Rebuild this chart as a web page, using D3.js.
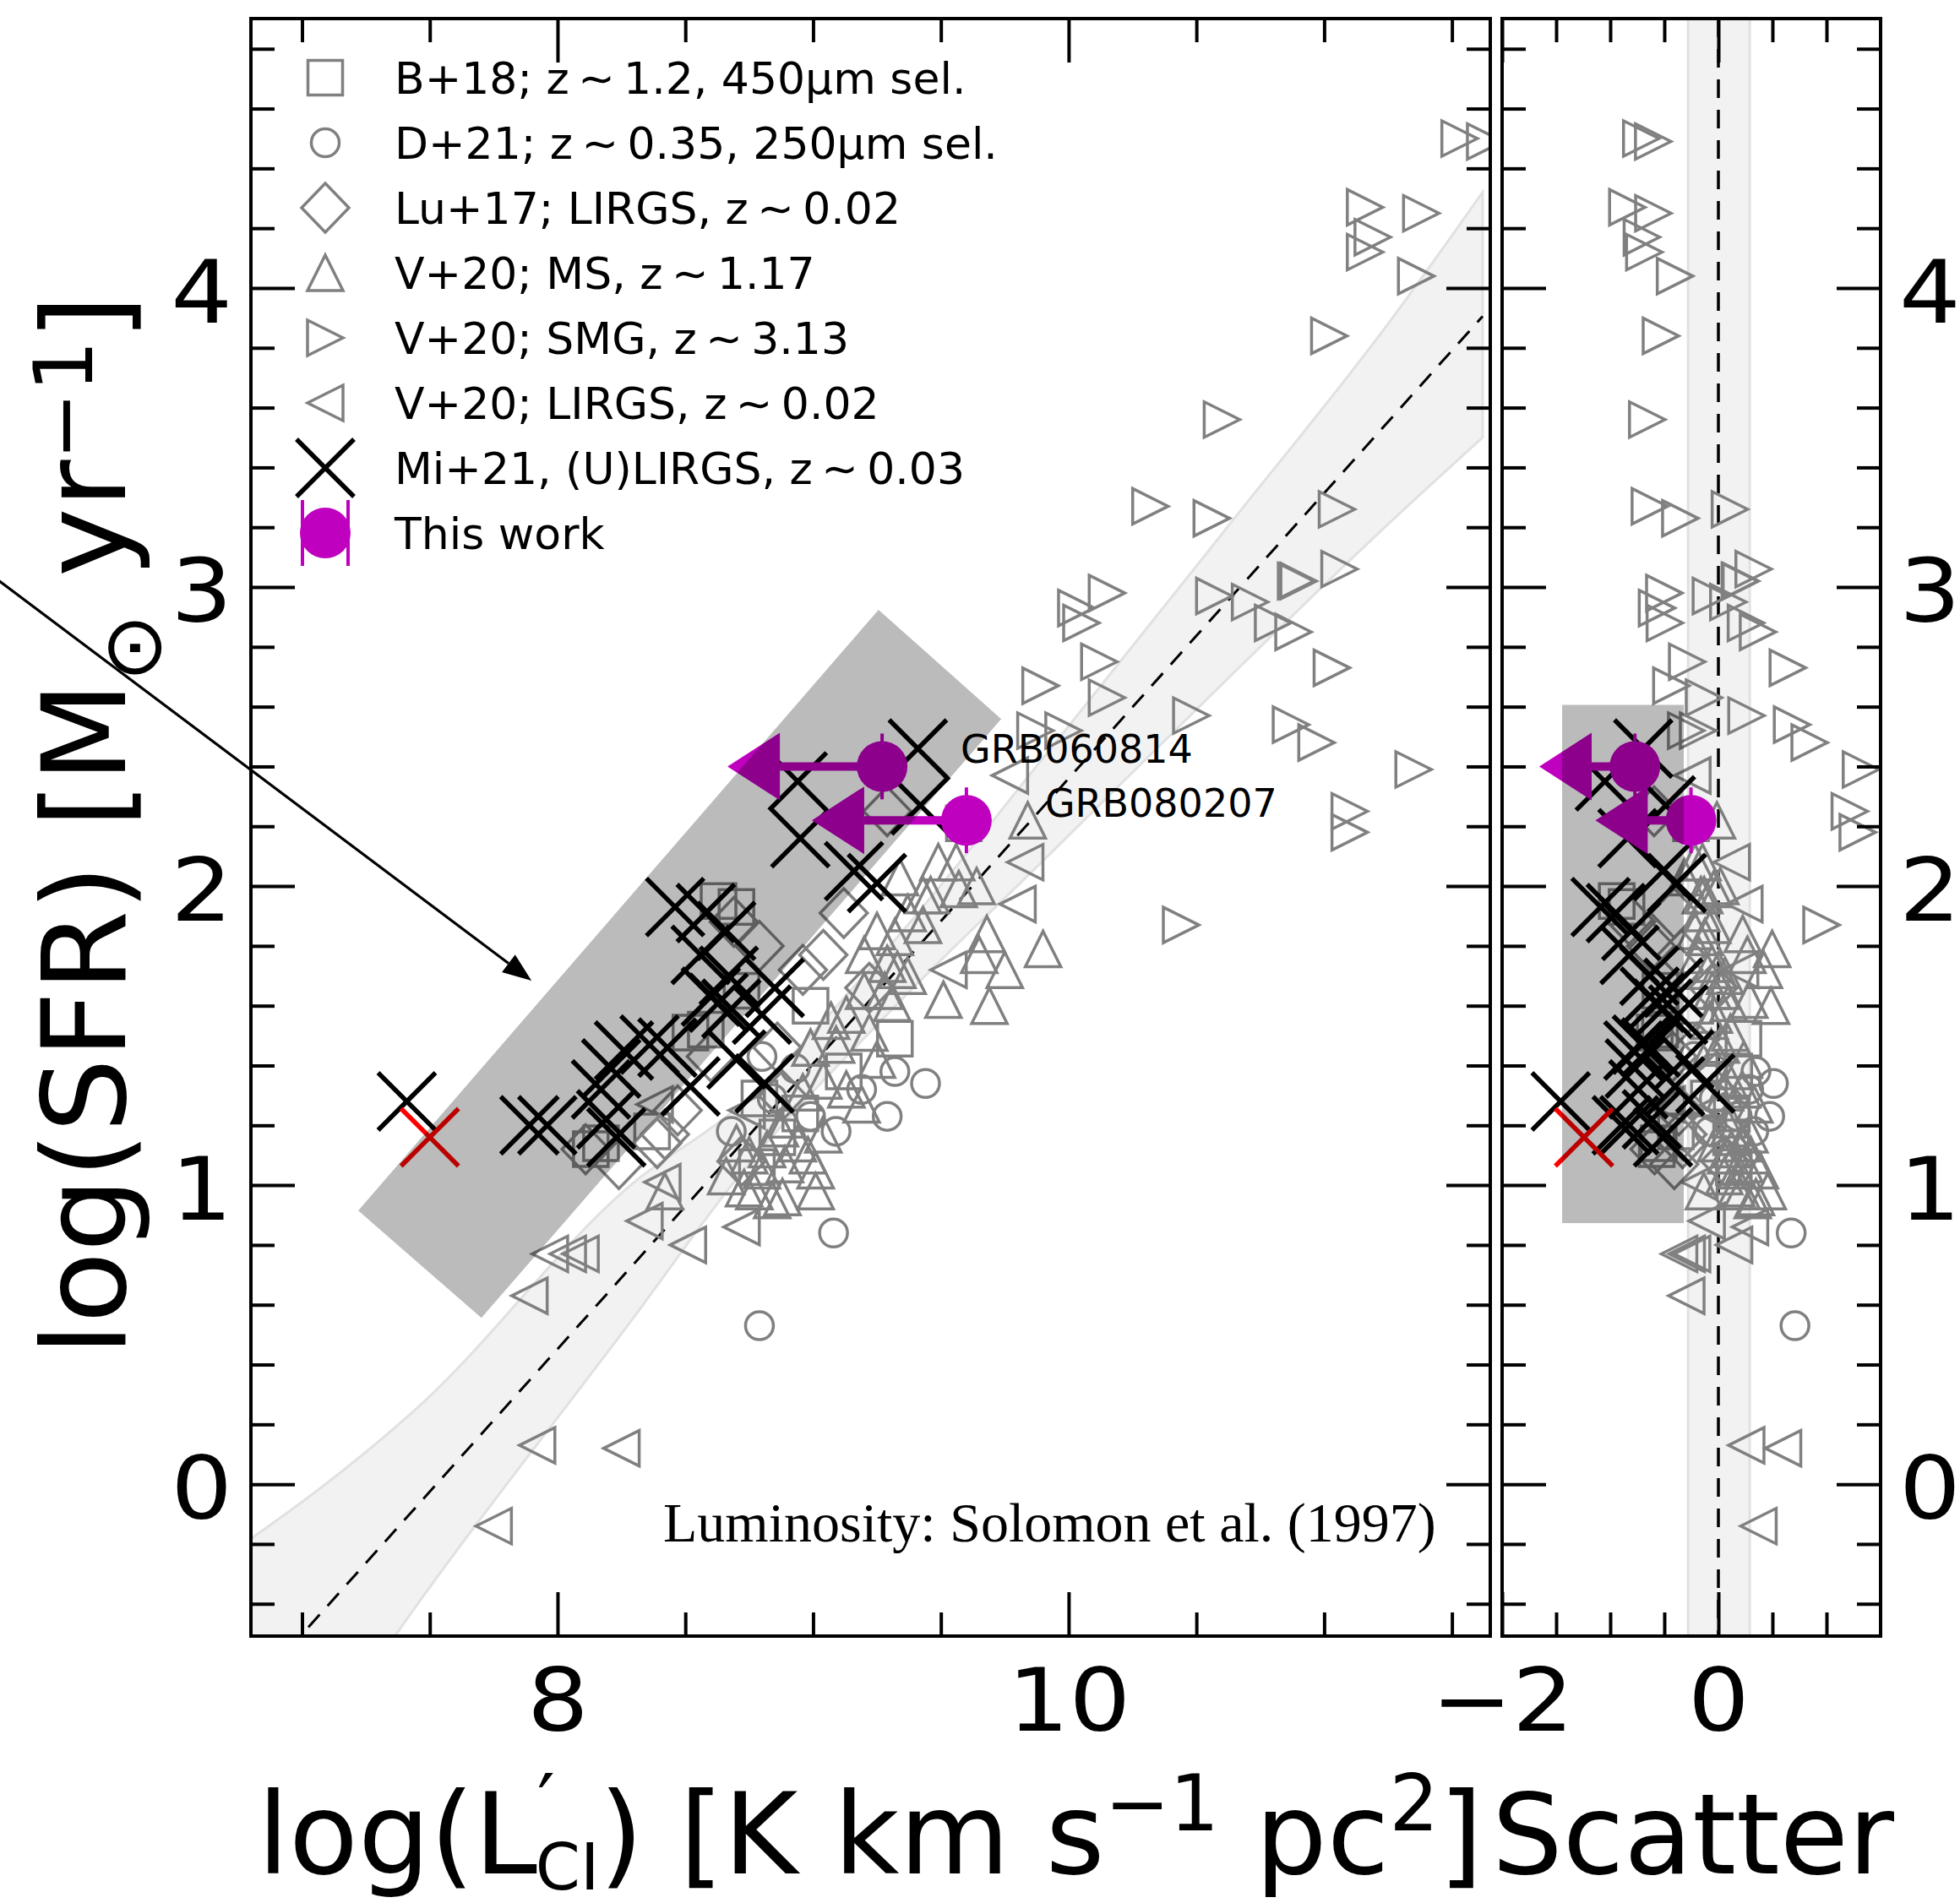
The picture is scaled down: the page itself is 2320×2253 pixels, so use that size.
<!DOCTYPE html>
<html>
<head>
<meta charset="utf-8">
<script src="https://cdn.jsdelivr.net/npm/d3@7"></script>
<style>
body{margin:0;background:#fff}
svg{display:block}
text{font-family:"DejaVu Sans",sans-serif;white-space:pre}
</style>
</head>
<body>
<svg id="chart" width="2320" height="2253"></svg>
<script>
// ---- data: [log L'CI, log SFR] ----
var b18 = [[8.70,1.93],[8.63,1.95],[9.59,2.21],[8.72,1.65],[8.58,1.52],[8.52,1.51],[8.13,1.12],
  [8.17,1.14],[8.37,1.18],[8.99,1.60],[9.12,1.38],[9.32,1.49],[8.79,1.29],[8.86,1.16],[8.95,1.24],
  [8.78,1.06]];
var d21 = [[9.08,0.84],[8.79,0.53],[9.44,1.34],[8.68,1.18],[8.80,1.43],[8.99,1.23],[9.19,1.32],
  [9.09,1.18],[8.93,1.39],[9.29,1.23],[8.84,1.29],[9.32,1.38]];
var lu17 = [[9.04,1.77],[9.29,2.25],[8.11,1.12],[8.42,1.17],[8.24,1.07],[8.47,1.25],[8.39,1.14],
  [8.96,1.72],[8.79,1.80],[8.69,1.88],[9.12,1.91],[8.60,1.43],[8.86,1.46],[9.22,1.66],[8.72,1.08],
  [8.88,1.30]];
var v20ms = [[9.84,2.22],[9.90,1.79],[9.51,1.62],[9.69,1.60],[9.75,1.72],[9.68,1.84],[9.65,1.77],
  [9.34,2.03],[9.46,1.97],[9.57,1.99],[9.64,2.00],[9.25,1.85],[9.37,1.91],[9.43,1.87],[9.20,1.77],
  [9.33,1.72],[9.20,1.65],[9.31,1.61],[9.13,1.57],[9.22,1.51],[9.25,1.42],[9.09,1.47],[9.04,1.35],
  [8.96,1.31],[9.13,1.32],[9.19,1.27],[8.87,1.19],[8.94,1.14],[9.04,1.17],[8.89,1.07],[8.80,1.05],
  [8.73,0.99],[9.01,1.05],[8.88,0.96],[8.42,0.98],[8.77,0.98],[8.84,0.95],[9.01,0.98],[9.49,2.08],
  [9.56,2.08],[9.43,1.97],[9.32,1.83],[9.29,1.74],[9.37,1.70],[9.28,1.65],[9.07,1.55],[8.99,1.46],
  [8.75,1.10],[8.82,1.12],[8.90,1.22],[8.66,1.03],[8.98,1.10],[8.70,1.14]];
var v20smg = [[11.53,4.50],[11.63,4.49],[11.16,4.27],[11.38,4.25],[11.19,4.17],[11.16,4.12],[11.36,4.04],
  [11.02,3.84],[10.60,3.56],[10.32,3.27],[10.56,3.23],[11.05,3.26],[10.15,2.98],[10.03,2.93],
  [10.05,2.88],[10.57,2.97],[10.71,2.95],[10.80,2.88],[10.88,2.85],[10.89,3.02],[10.90,3.02],
  [11.06,3.06],[10.12,2.75],[9.89,2.67],[10.15,2.63],[10.48,2.57],[10.87,2.54],[9.87,2.52],
  [9.98,2.52],[11.03,2.73],[10.97,2.48],[11.35,2.39],[11.10,2.25],[11.10,2.18],[10.44,1.87]];
var v20lirg = [[7.97,0.77],[8.04,0.77],[8.09,0.77],[7.89,0.63],[8.34,0.88],[8.51,0.80],[8.72,0.86],
  [7.92,0.13],[8.25,0.12],[7.75,-0.14],[9.77,2.37],[9.83,2.08],[9.80,1.94],[9.53,1.72],[8.38,1.27],
  [8.41,1.01],[8.74,1.25]];
var mi21 = [[7.41,1.28],[7.89,1.20],[7.96,1.20],[8.19,1.22],[8.23,1.16],[8.17,1.32],[8.21,1.39],
  [8.26,1.45],[8.36,1.47],[8.43,1.46],[8.52,1.33],[8.70,1.42],[8.81,1.34],[8.46,1.93],[8.58,1.91],
  [8.66,1.85],[8.56,1.77],[8.63,1.61],[8.68,1.59],[8.67,1.70],[8.85,1.66],[8.80,1.57],[8.94,2.35],
  [8.95,2.16],[9.16,2.05],[9.25,2.01],[9.41,2.46],[9.42,2.27],[8.60,1.63]];
var mi21red = [[7.50,1.16]];

// this work (upper limits in L'CI)
var grbNames = ["GRB060814", "GRB080207"];
var grbX = [9.27, 9.60];
var grbY = [2.40, 2.22];
var grbYerr = [0.11, 0.11];
var grbXlim = [0.4, 0.4];

// fit and its band
var fitSlope = 0.954, fitIntercept = -7.18;
var fitRange = [6.5, 11.62];
var bandX  = [6.5, 7.47, 8.3, 8.69, 9.3, 9.93, 10.63, 11.25, 11.62];
var bandHi = [-0.36, 0.27, 1.01, 1.25, 1.80, 2.46, 3.21, 3.88, 4.32];
var bandLo = [-1.60, -0.38, 0.56, 1.01, 1.58, 2.11, 2.70, 3.21, 3.50];
var scatBand = [-0.28, 0.29];

// shaded regions
var regionL = [[9.256,2.924],[9.736,2.559],[7.702,0.556],[7.220,0.915]];
var regionR = {x:[-1.445,-0.32], y:[0.873,2.606]};
var pointer = [[5.80,3.03],[7.898,1.684]];

// ticks
var yMajor = [0,1,2,3,4];
var yMinor = [-0.4,-0.2,0.2,0.4,0.6,0.8,1.2,1.4,1.6,1.8,2.2,2.4,2.6,2.8,3.2,3.4,3.6,3.8,4.2,4.4,4.6,4.8];
var xMajorL = [8,10];
var xMinorL = [7,7.5,8.5,9,9.5,10.5,11,11.5];
var xMajorR = [-2,0];
var xMinorR = [-1.5,-1,-0.5,0.5,1];

var legendLabels = ["B+18; z\u2009\u223C\u20091.2, 450\u03BCm sel.", "D+21; z\u2009\u223C\u20090.35, 250\u03BCm sel.",
  "Lu+17; LIRGS, z\u2009\u223C\u20090.02", "V+20; MS, z\u2009\u223C\u20091.17", "V+20; SMG, z\u2009\u223C\u20093.13",
  "V+20; LIRGS, z\u2009\u223C\u20090.02", "Mi+21, (U)LIRGS, z\u2009\u223C\u20090.03", "This work"];
var legendShapes = ["square","circle","diamond","up","right","left","cross","grb"];

// ---- layout ----
var topY = 22, botY = 1937;
var xL = d3.scaleLinear().domain([6.8, 11.65]).range([297, 1764]);
var xR = d3.scaleLinear().domain([-2, 1.5]).range([1778, 2226]);
var y = d3.scaleLinear().domain([-0.508, 4.901]).range([botY, topY]);
var magenta = "#bf00bf", grey = "#808080";

var shapes = {
  square: "M-20.5,-20.5H20.5V20.5H-20.5Z",
  circle: "M16.5,0A16.5,16.5 0 1,1 -16.5,0A16.5,16.5 0 1,1 16.5,0Z",
  diamond: "M0,-29L28,0L0,29L-28,0Z",
  up: "M0,-21L21,21L-21,21Z",
  right: "M21,0L-21,21L-21,-21Z",
  left: "M-21,0L21,-21L21,21Z",
  cross: "M-34,-34L34,34M-34,34L34,-34"
};

function scatter(d){ return d[0] - (d[1] - fitIntercept) / fitSlope; }

var svg = d3.select("#chart");
var defs = svg.append("defs");
defs.append("clipPath").attr("id","clipL").append("rect")
  .attr("x",297).attr("y",topY).attr("width",1467).attr("height",botY-topY);
defs.append("clipPath").attr("id","clipR").append("rect")
  .attr("x",1778).attr("y",topY).attr("width",448).attr("height",botY-topY);

function drawMarkers(g, data, shape, xf, color){
  g.append("g").selectAll("path").data(data).join("path")
    .attr("transform", function(d){ return "translate(" + xf(d) + "," + y(d[1]) + ")"; })
    .attr("d", shapes[shape])
    .attr("fill","none")
    .attr("stroke", color)
    .attr("stroke-width", shape == "cross" ? 5.5 : 3.5);
}

function drawGrb(g, xf, xlimf){
  grbX.forEach(function(v, i){
    var d = [grbX[i], grbY[i]];
    var cx = xf(d), cy = y(grbY[i]), bx = xlimf(d, i);
    g.append("line").attr("x1",cx).attr("x2",bx).attr("y1",cy).attr("y2",cy)
      .attr("stroke",magenta).attr("stroke-width",10);
    g.append("path").attr("d","M"+bx+","+(cy-40)+"L"+(bx-62)+","+cy+"L"+bx+","+(cy+40)+"Z")
      .attr("fill",magenta);
    g.append("line").attr("x1",cx).attr("x2",cx)
      .attr("y1",y(grbY[i]+grbYerr[i])).attr("y2",y(grbY[i]-grbYerr[i]))
      .attr("stroke",magenta).attr("stroke-width",4);
    g.append("circle").attr("cx",cx).attr("cy",cy).attr("r",30).attr("fill",magenta);
  });
}

var series = [[b18,"square"],[d21,"circle"],[lu17,"diamond"],[v20ms,"up"],[v20smg,"right"],[v20lirg,"left"]];

// ---- left panel ----
var gL = svg.append("g").attr("clip-path","url(#clipL)");
var area = d3.area()
  .x(function(d,i){ return xL(bandX[i]); })
  .y0(function(d,i){ return y(bandLo[i]); })
  .y1(function(d,i){ return y(bandHi[i]); })
  .curve(d3.curveMonotoneX);
gL.append("path").datum(bandX).attr("d", area)
  .attr("fill","#f2f2f2").attr("stroke","#e1e1e1").attr("stroke-width",3);
gL.append("line")
  .attr("x1",xL(fitRange[0])).attr("y1",y(fitSlope*fitRange[0]+fitIntercept))
  .attr("x2",xL(fitRange[1])).attr("y2",y(fitSlope*fitRange[1]+fitIntercept))
  .attr("stroke","#000").attr("stroke-width",3).attr("stroke-dasharray","20,14");

var fxL = function(d){ return xL(d[0]); };
series.forEach(function(s){ drawMarkers(gL, s[0], s[1], fxL, grey); });
drawMarkers(gL, mi21, "cross", fxL, "#000");
drawMarkers(gL, mi21red, "cross", fxL, "#ff0000");
drawGrb(gL, fxL, function(d,i){ return xL(d[0]-grbXlim[i]); });
gL.append("path")
  .attr("d", d3.line().x(function(d){ return xL(d[0]); }).y(function(d){ return y(d[1]); })(regionL) + "Z")
  .attr("fill","#000").attr("fill-opacity",0.267);

grbNames.forEach(function(n, i){
  gL.append("text").attr("x", xL(grbX[i]) + 93).attr("y", y(grbY[i]) - 4)
    .attr("font-size",46).text(n);
});

gL.append("text").attr("x",785).attr("y",1825)
  .style("font-family","'Liberation Serif',serif").attr("font-size",66)
  .text("Luminosity: Solomon et al. (1997)");

// ---- right panel ----
var gR = svg.append("g").attr("clip-path","url(#clipR)");
gR.append("rect").attr("x",xR(scatBand[0])).attr("y",topY)
  .attr("width",xR(scatBand[1])-xR(scatBand[0])).attr("height",botY-topY)
  .attr("fill","#f2f2f2");
scatBand.forEach(function(v){
  gR.append("line").attr("x1",xR(v)).attr("x2",xR(v)).attr("y1",topY).attr("y2",botY)
    .attr("stroke","#e1e1e1").attr("stroke-width",3);
});
gR.append("line").attr("x1",xR(0)).attr("x2",xR(0)).attr("y1",topY).attr("y2",botY)
  .attr("stroke","#000").attr("stroke-width",3.5).attr("stroke-dasharray","22,14");

var fxR = function(d){ return xR(scatter(d)); };
series.forEach(function(s){ drawMarkers(gR, s[0], s[1], fxR, grey); });
drawMarkers(gR, mi21, "cross", fxR, "#000");
drawMarkers(gR, mi21red, "cross", fxR, "#ff0000");
drawGrb(gR, fxR, function(d,i){ return xR(scatter(d)-grbXlim[i]); });
gR.append("rect").attr("x",xR(regionR.x[0])).attr("y",y(regionR.y[1]))
  .attr("width",xR(regionR.x[1])-xR(regionR.x[0])).attr("height",y(regionR.y[0])-y(regionR.y[1]))
  .attr("fill","#000").attr("fill-opacity",0.267);

// ---- pointer arrow ----
var p0 = [xL(pointer[0][0]), y(pointer[0][1])], p1 = [xL(pointer[1][0]), y(pointer[1][1])];
var ang = Math.atan2(p1[1]-p0[1], p1[0]-p0[0]);
var hl = 34, hw = 13;
var bxp = p1[0]-hl*Math.cos(ang), byp = p1[1]-hl*Math.sin(ang);
svg.append("line").attr("x1",p0[0]).attr("y1",p0[1]).attr("x2",bxp).attr("y2",byp)
  .attr("stroke","#000").attr("stroke-width",3.2);
svg.append("path").attr("d","M"+p1[0]+","+p1[1]+
  "L"+(bxp+hw*Math.sin(ang))+","+(byp-hw*Math.cos(ang))+
  "L"+(bxp-hw*Math.sin(ang))+","+(byp+hw*Math.cos(ang))+"Z").attr("fill","#000");

// ---- axes ----
function styleAxis(g){
  g.select(".domain").remove();
  g.attr("font-size",104).attr("font-family","DejaVu Sans");
  g.selectAll("line").attr("stroke-width",4);
  g.selectAll("text").attr("transform","scale(1.1,1)");
  return g;
}
function axisSet(axisFn, scale, pos, major, minor, labelled, pad){
  var horiz = (axisFn === d3.axisBottom || axisFn === d3.axisTop);
  var tr = horiz ? "translate(0," + pos + ")" : "translate(" + pos + ",0)";
  svg.append("g").attr("transform",tr)
    .call(axisFn(scale).tickValues(minor).tickSize(-28).tickFormat(""))
    .call(styleAxis);
  var g = svg.append("g").attr("transform",tr)
    .call(axisFn(scale).tickValues(major).tickSize(-52).tickPadding(pad || 0)
      .tickFormat(labelled ? d3.format("d") : ""))
    .call(styleAxis);
  if (!horiz) g.selectAll("text").attr("dy","0.39em");
}
axisSet(d3.axisBottom, xL, botY, xMajorL, xMinorL, true, 38);
axisSet(d3.axisTop, xL, topY, xMajorL, xMinorL, false);
axisSet(d3.axisLeft, y, 297, yMajor, yMinor, true, 20);
axisSet(d3.axisRight, y, 1764, yMajor, yMinor, false);
axisSet(d3.axisBottom, xR, botY, xMajorR, xMinorR, true, 38);
axisSet(d3.axisTop, xR, topY, xMajorR, xMinorR, false);
axisSet(d3.axisLeft, y, 1778, yMajor, yMinor, false);
axisSet(d3.axisRight, y, 2226, yMajor, yMinor, true, 20);

[[297,1764],[1778,2226]].forEach(function(p){
  svg.append("rect").attr("x",p[0]).attr("y",topY).attr("width",p[1]-p[0]).attr("height",botY-topY)
    .attr("fill","none").attr("stroke","#000").attr("stroke-width",4);
});

// ---- axis labels ----
var xl = svg.append("text").attr("x",1030).attr("y",2218).attr("text-anchor","middle").attr("font-size",134);
xl.append("tspan").text("log(L");
xl.append("tspan").attr("font-size",92).attr("dy",-51).text("\u2032");
xl.append("tspan").attr("font-size",76).attr("dx",-23).attr("dy",70).text("CI");
xl.append("tspan").attr("dy",-19).text(") [K km s");
xl.append("tspan").attr("font-size",92).attr("dy",-51).text("\u22121");
xl.append("tspan").attr("dy",51).text(" pc");
xl.append("tspan").attr("font-size",92).attr("dy",-51).text("2");
xl.append("tspan").attr("dy",51).text("]");

svg.append("text").attr("x",2004).attr("y",2218).attr("text-anchor","middle")
  .attr("font-size",132).text("Scatter");

var yl = svg.append("text").attr("transform","translate(148,977) rotate(-90)")
  .attr("text-anchor","middle").attr("font-size",138);
yl.append("tspan").text("log(SFR) [M");
yl.append("tspan").attr("font-size",96).attr("dy",42).text("\u2299");
yl.append("tspan").attr("dy",-42).text(" yr");
yl.append("tspan").attr("font-size",96).attr("dy",-39).text("\u22121");
yl.append("tspan").attr("dy",39).text("]");

// ---- legend ----
var leg = svg.append("g");
legendLabels.forEach(function(t, i){
  var ly = 92 + i*77, lx = 385;
  var s = legendShapes[i];
  if (s == "grb"){
    leg.append("circle").attr("cx",lx).attr("cy",ly).attr("r",30).attr("fill",magenta);
    [-27,27].forEach(function(o){
      leg.append("line").attr("x1",lx+o).attr("x2",lx+o).attr("y1",ly-39).attr("y2",ly+39)
        .attr("stroke",magenta).attr("stroke-width",4);
    });
  } else {
    leg.append("path").attr("transform","translate("+lx+","+ly+")").attr("d",shapes[s])
      .attr("fill","none").attr("stroke", s=="cross" ? "#000" : grey)
      .attr("stroke-width", s=="cross" ? 5.5 : 3.5);
  }
  leg.append("text").attr("x",467).attr("y",ly+19).attr("font-size",52).text(t);
});
</script>
</body>
</html>
